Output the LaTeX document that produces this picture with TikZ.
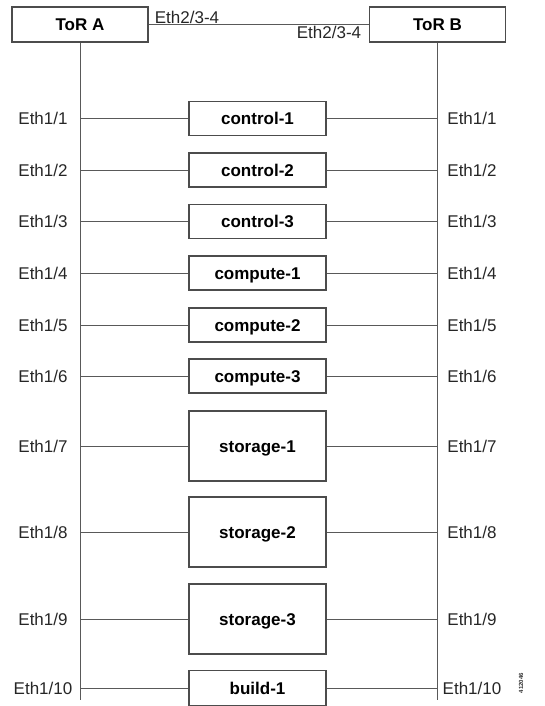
\documentclass[tikz,border=0pt]{standalone}
\usepackage{fontspec}
\setmainfont{Liberation Sans}
\usepackage{tikz}

\begin{document}
\begin{tikzpicture}[x=1pt,y=-1pt,
  font=\fontsize{17}{20}\selectfont,
  line width=0.9pt,
  tor/.style={draw=black!70,line width=1.2pt,minimum width=136pt,minimum height=35pt,text height=14pt,text depth=1.8pt,font=\fontsize{17}{20}\selectfont\bfseries},
  host/.style={draw=black!70,line width=1.2pt,minimum width=137pt,minimum height=34pt,text height=14pt,text depth=1.8pt,font=\fontsize{17}{20}\selectfont\bfseries},
  disk/.style={host,minimum height=70pt},
  port/.style={inner sep=0pt,text=black!85,text height=14pt,text depth=1.8pt},
  wire/.style={draw=black!65}]
  \useasboundingbox (0,0) rectangle (545,706);

  \node[tor] (torA) at (80,24.5) {ToR A};
  \node[tor] (torB) at (437.5,24.5) {ToR B};
  \draw[wire] (torA.east) -- (torB.west);
  \node[port] (upA) at (187,17) {Eth2/3-4};
  \node[port] (upB) at (329,32) {Eth2/3-4};

  \coordinate (endA) at (torA.south |- 0,700);
  \coordinate (endB) at (torB.south |- 0,700);
  \draw[wire] (torA.south) -- (endA);
  \draw[wire] (torB.south) -- (endB);

  \node[host] (ctl1) at (257.5,118.5) {control-1};
  \node[host] (ctl2) at (257.5,170) {control-2};
  \node[host] (ctl3) at (257.5,221.5) {control-3};
  \node[host] (cmp1) at (257.5,273) {compute-1};
  \node[host] (cmp2) at (257.5,325) {compute-2};
  \node[host] (cmp3) at (257.5,376) {compute-3};
  \node[disk] (sto1) at (257.5,446) {storage-1};
  \node[disk] (sto2) at (257.5,532) {storage-2};
  \node[disk] (sto3) at (257.5,619) {storage-3};
  \node[host,minimum height=35pt] (bld1) at (257.5,688) {build-1};

  \draw[wire] (ctl1.west) -- (ctl1.west -| torA.south);
  \draw[wire] (ctl1.east) -- (ctl1.east -| torB.south);
  \draw[wire] (ctl2.west) -- (ctl2.west -| torA.south);
  \draw[wire] (ctl2.east) -- (ctl2.east -| torB.south);
  \draw[wire] (ctl3.west) -- (ctl3.west -| torA.south);
  \draw[wire] (ctl3.east) -- (ctl3.east -| torB.south);
  \draw[wire] (cmp1.west) -- (cmp1.west -| torA.south);
  \draw[wire] (cmp1.east) -- (cmp1.east -| torB.south);
  \draw[wire] (cmp2.west) -- (cmp2.west -| torA.south);
  \draw[wire] (cmp2.east) -- (cmp2.east -| torB.south);
  \draw[wire] (cmp3.west) -- (cmp3.west -| torA.south);
  \draw[wire] (cmp3.east) -- (cmp3.east -| torB.south);
  \draw[wire] (sto1.west) -- (sto1.west -| torA.south);
  \draw[wire] (sto1.east) -- (sto1.east -| torB.south);
  \draw[wire] (sto2.west) -- (sto2.west -| torA.south);
  \draw[wire] (sto2.east) -- (sto2.east -| torB.south);
  \draw[wire] (sto3.west) -- (sto3.west -| torA.south);
  \draw[wire] (sto3.east) -- (sto3.east -| torB.south);
  \draw[wire] (bld1.west) -- (bld1.west -| torA.south);
  \draw[wire] (bld1.east) -- (bld1.east -| torB.south);

  % port labels
  \node[port] (pA1) at (43,118.5) {Eth1/1};
  \node[port] (pB1) at (472,118.5) {Eth1/1};
  \node[port] (pA2) at (43,170) {Eth1/2};
  \node[port] (pB2) at (472,170) {Eth1/2};
  \node[port] (pA3) at (43,221.5) {Eth1/3};
  \node[port] (pB3) at (472,221.5) {Eth1/3};
  \node[port] (pA4) at (43,273) {Eth1/4};
  \node[port] (pB4) at (472,273) {Eth1/4};
  \node[port] (pA5) at (43,325) {Eth1/5};
  \node[port] (pB5) at (472,325) {Eth1/5};
  \node[port] (pA6) at (43,376) {Eth1/6};
  \node[port] (pB6) at (472,376) {Eth1/6};
  \node[port] (pA7) at (43,446) {Eth1/7};
  \node[port] (pB7) at (472,446) {Eth1/7};
  \node[port] (pA8) at (43,532) {Eth1/8};
  \node[port] (pB8) at (472,532) {Eth1/8};
  \node[port] (pA9) at (43,619) {Eth1/9};
  \node[port] (pB9) at (472,619) {Eth1/9};
  \node[port] (pA10) at (43,688) {Eth1/10};
  \node[port] (pB10) at (472,688) {Eth1/10};

  \node[rotate=90,inner sep=0pt,text=black!80,font=\fontsize{6}{7}\selectfont\bfseries] (figno) at (521,683) {412046};
\end{tikzpicture}
\end{document}
